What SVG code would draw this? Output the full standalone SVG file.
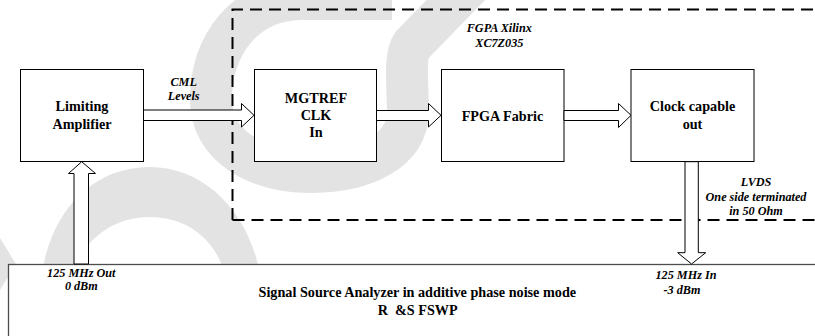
<svg xmlns="http://www.w3.org/2000/svg" width="815" height="336" viewBox="0 0 815 336">
  <style>
    .wm { fill: none; stroke: #e3e3e3; }
    .wmf { fill: #e3e3e3; stroke: none; }
    .box { fill: #fff; stroke: #000; stroke-width: 1; }
    .arrow { fill: #fff; stroke: #000; stroke-width: 1; stroke-linejoin: miter; }
    .frame { fill: none; stroke: #000; stroke-width: 2; stroke-dasharray: 12 7; }
    .host { fill: #fff; stroke: #4d4d4d; stroke-width: 1.3; }
    .lbl { font-size: 14.2px; font-weight: bold; text-anchor: middle; }
    .note { font-size: 12.2px; font-weight: bold; font-style: italic; text-anchor: middle; }
  </style>

  <!-- background watermark -->
  <g id="watermark">
    <path class="wm" stroke-width="42" d="M 485,-30 L 412,45 C 404,56 408,90 408,112 C 408,150 365,172 312,172 C 255,172 211,145 211,100 C 211,45 245,0 300,-1 L 392,-1"/>
    <path class="wmf" d="M 40,300 C 40,230 80,167 150,167 C 215,167 262,230 262,300 L 228,300 C 228,250 195,217 150,217 C 105,217 70,250 70,300 Z"/>
    <path class="wmf" d="M 0,238 L 16,264 L 0,290 Z"/>
  </g>

  <!-- FPGA boundary (open to the right) -->
  <path id="fpga-boundary" class="frame" d="M 232.5,220 V 9.5 H 830 M 232.5,220 H 830"/>

  <g font-family="Liberation Serif, Times New Roman, serif" fill="#000">
    <!-- measuring instrument -->
    <g id="analyzer">
      <rect class="host" x="8.5" y="264.5" width="830" height="90"/>
      <text class="lbl" x="417.3" y="297">Signal Source Analyzer in additive phase noise mode</text>
      <text class="lbl" x="417.7" y="314.5" xml:space="preserve">R  &amp;S FSWP</text>
    </g>

    <g id="limiting-amp">
      <rect class="box" x="20.5" y="69.5" width="123" height="92"/>
      <text class="lbl" x="82" y="111">Limiting</text>
      <text class="lbl" x="82" y="128.5">Amplifier</text>
    </g>

    <g id="mgtref">
      <rect class="box" x="254.5" y="69.5" width="122" height="92"/>
      <text class="lbl" x="316" y="103.3">MGTREF</text>
      <text class="lbl" x="316" y="120.3">CLK</text>
      <text class="lbl" x="316" y="137.3">In</text>
    </g>

    <g id="fabric">
      <rect class="box" x="441.5" y="69.5" width="122.5" height="92"/>
      <text class="lbl" x="502.5" y="120.7">FPGA Fabric</text>
    </g>

    <g id="clock-out">
      <rect class="box" x="631" y="69.5" width="123" height="92"/>
      <text class="lbl" x="692.5" y="111.3">Clock capable</text>
      <text class="lbl" x="692.5" y="129">out</text>
    </g>

    <!-- block arrows -->
    <g id="connectors">
      <polygon class="arrow" points="143.5,110 241.5,110 241.5,103.5 254,115.3 241.5,127 241.5,120.5 143.5,120.5"/>
      <polygon class="arrow" points="376.5,110.5 428.5,110.5 428.5,103.5 441,115.3 428.5,127 428.5,120.5 376.5,120.5"/>
      <polygon class="arrow" points="564,110.5 618.5,110.5 618.5,103.5 631,115.3 618.5,127.5 618.5,120.5 564,120.5"/>
      <polygon class="arrow" points="74,264 74,173.5 68.5,173.5 81.7,161.7 95.5,173.5 88.5,173.5 88.5,264"/>
      <polygon class="arrow" points="685,161.7 685,252.7 677.7,252.7 691.5,264 705.7,252.7 698.3,252.7 698.3,161.7"/>
    </g>

    <!-- annotations -->
    <g id="labels">
      <text class="note" x="499.3" y="32.3">FGPA Xilinx</text>
      <text class="note" x="499.3" y="46.5">XC7Z035</text>
      <text class="note" x="183.7" y="85.7">CML</text>
      <text class="note" x="183.7" y="100.3">Levels</text>
      <text class="note" x="756" y="185.7">LVDS</text>
      <text class="note" x="756" y="201">One side terminated</text>
      <text class="note" x="756" y="215">in 50 Ohm</text>
      <text class="note" x="81.3" y="276.5">125 MHz Out</text>
      <text class="note" x="81.3" y="290.3">0 dBm</text>
      <text class="note" x="686" y="279.3">125 MHz In</text>
      <text class="note" x="682" y="294">-3 dBm</text>
    </g>
  </g>
</svg>
